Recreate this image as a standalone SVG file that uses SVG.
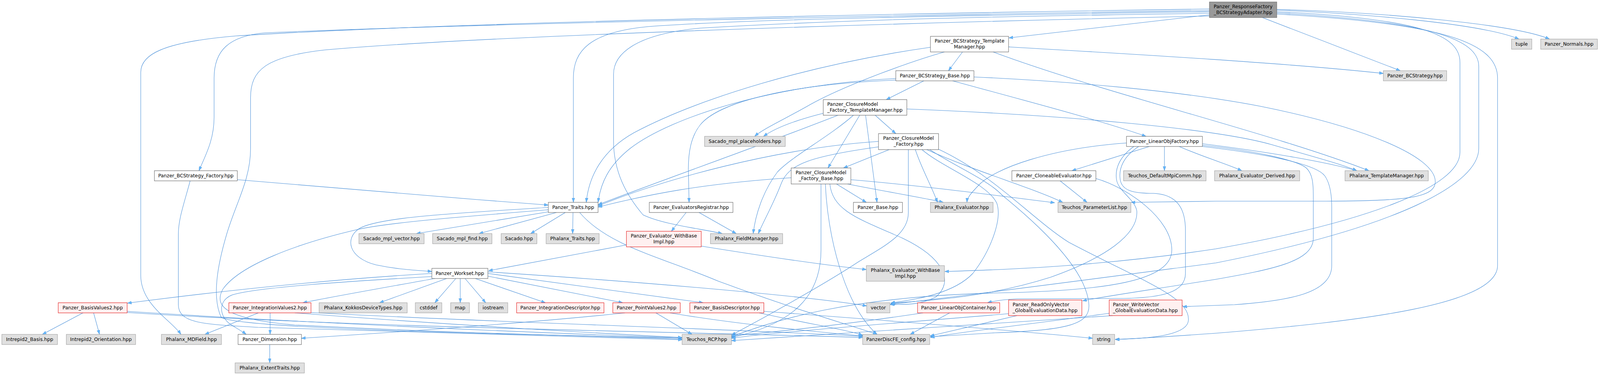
<svg xmlns="http://www.w3.org/2000/svg" width="4342" height="960" viewBox="0 0 4342 960">
<style>
text{font-family:"DejaVu Sans","Liberation Sans",sans-serif;font-size:13px;fill:#000;text-anchor:middle}
text.l{text-anchor:start}
rect{stroke-width:1}
.w rect{fill:#ffffff;stroke:#555555}
.g rect{fill:#e0e0e0;stroke:#999999}
.r rect{fill:#fff0f0;stroke:#e00000}
.root rect{fill:#999999;stroke:#666666}
#edges path{fill:none;stroke:#4a90d9;stroke-width:1.1;marker-end:url(#a)}
</style>
<defs>
<marker id="a" viewBox="0 0 10 7" markerWidth="11" markerHeight="8" refX="10" refY="3.5" orient="auto" markerUnits="userSpaceOnUse"><path d="M0,0L10,3.5L0,7z" fill="#63b8ff" stroke="#3f80c0" stroke-width="0.5"/></marker>
</defs>
<rect x="0" y="0" width="4342" height="960" fill="#ffffff"/>
<g id="diagram" transform="scale(0.94334 1)">
<g id="edges">
<path d="M3282,38 L2738,97"/>
<path d="M3465,26 C3700,35 4020,60 4122,100"/>
<path d="M3465,24 C3760,32 4110,62 4205,100"/>
<path d="M3426,45 L3800,181"/>
<path d="M3465,30 C3860,48 3962,90 3962,160 L3962,390 C3962,480 3700,570 3300,637 C3000,680 2750,690 2564,695"/>
<path d="M3465,33 C3880,55 4013,100 4013,170 L4013,380 C4013,470 3800,580 3300,673 C3000,710 2600,760 2416,779"/>
<path d="M3465,36 C3920,60 4064,110 4064,200 L4064,680 C4064,780 3700,822 3300,853 C3150,863 3080,867 3026,869"/>
<path d="M3282,27 C2600,36 1300,60 720,84 C620,92 581,130 581,200 L581,300 C581,360 556,400 540,437"/>
<path d="M3282,23 C2600,32 1250,55 640,92 C440,108 382,140 382,185 L382,705 C382,780 465,820 491,856"/>
<path d="M3282,41 C2600,55 1350,88 880,128 C720,145 680,180 680,250 L680,380 C680,460 640,520 615,600 C590,680 575,760 600,812 C640,840 1300,855 1851,865"/>
<path d="M3282,30 C2600,40 2050,48 1760,68 C1600,82 1556,130 1556,200 L1556,518"/>
<path d="M3282,34 C2700,42 2300,50 1900,72 C1720,88 1665,140 1665,190 L1665,360 C1665,440 1700,500 1745,550 C1800,575 1900,585 1960,598"/>
<path d="M2612,133 L2574,181"/>
<path d="M2525,121 C2200,165 1900,250 1720,340 C1635,385 1598,450 1591,518"/>
<path d="M2563,133 C2480,155 2300,215 2200,267 C2130,305 2070,330 2048,349"/>
<path d="M2695,133 C3000,240 3450,340 3715,437"/>
<path d="M2737,120 C3100,140 3500,162 3754,188"/>
<path d="M2507,207 L2405,255"/>
<path d="M2585,207 C2800,262 3000,312 3110,349"/>
<path d="M2643,197 C2900,208 3200,232 3420,272 C3700,325 3895,400 3895,465 C3895,505 3820,515 3600,515 L3300,515 L3070,518"/>
<path d="M2431,201 C2100,215 1820,300 1710,380 C1650,425 1630,470 1623,518"/>
<path d="M2431,205 C2150,215 1950,260 1900,320 C1875,350 1868,390 1868,433 L1870,518"/>
<path d="M2234,290 C2150,310 2100,330 2072,349"/>
<path d="M2375,295 L2431,342"/>
<path d="M2333,295 L2247,430"/>
<path d="M2349,295 L2380,518"/>
<path d="M2461,279 C2900,295 3300,330 3450,370 C3560,400 3640,420 3682,437"/>
<path d="M2274,295 C2100,360 1800,460 1623,524"/>
<path d="M2316,295 C2250,350 2150,400 2110,440 C2070,490 2050,550 2044,598"/>
<path d="M2413,383 L2289,430"/>
<path d="M2384,362 C2100,380 1800,460 1623,527"/>
<path d="M2384,376 C2200,400 2140,420 2120,470 C2100,520 2070,570 2058,598"/>
<path d="M2484,383 C2500,430 2530,480 2544,518"/>
<path d="M2515,383 C2650,440 2800,480 2884,518"/>
<path d="M2465,383 L2465,545 C2465,600 2400,630 2330,670 C2250,720 2100,800 1985,858"/>
<path d="M2502,383 C2560,430 2680,470 2705,520 C2720,560 2690,640 2640,700 C2580,760 2450,770 2417,776"/>
<path d="M2523,383 C2600,430 2680,460 2720,500 C2850,600 2950,700 2955,780 C2958,830 2900,845 2700,852 L2525,862"/>
<path d="M2547,382 C2700,450 2800,560 2900,620 C3100,720 3230,760 3225,820 C3222,862 3100,867 3027,869"/>
<path d="M2147,455 C1900,470 1750,500 1623,530"/>
<path d="M2309,460 C2500,475 2700,500 2862,519"/>
<path d="M2270,471 L2351,518"/>
<path d="M2228,471 L2228,640 C2228,760 2150,830 1985,864"/>
<path d="M2240,471 C2245,600 2290,780 2380,856"/>
<path d="M2300,471 C2400,490 2500,505 2560,518"/>
<path d="M2252,471 C2260,540 2330,560 2450,610 C2560,660 2590,720 2540,760 C2490,785 2440,778 2416,780"/>
<path d="M3119,375 L2909,437"/>
<path d="M3160,375 L3160,437"/>
<path d="M3200,375 C3260,400 3330,420 3370,437"/>
<path d="M3263,368 C3450,390 3600,415 3682,437"/>
<path d="M3263,372 C3400,385 3520,410 3545,430 C3562,445 3564,470 3564,500 L3564,610 C3564,670 3450,690 3300,715 C3100,745 2990,760 2938,770"/>
<path d="M3263,375 C3420,392 3570,418 3595,450 C3610,470 3614,500 3614,530 L3614,680 C3614,750 3500,770 3350,780 L3210,785"/>
<path d="M3090,375 C3050,400 3035,430 3040,460 C3045,490 3080,495 3130,495 C3200,498 3217,540 3217,590 L3217,700 C3217,750 3150,762 3050,764 L2760,765 C2720,767 2700,770 2680,775"/>
<path d="M3077,375 C3040,400 3025,430 3030,460 C3035,490 3080,510 3085,540 C3090,600 3000,660 2850,710 C2650,770 2470,770 2418,777"/>
<path d="M3057,366 C2850,380 2700,430 2655,475 C2635,495 2625,505 2624,518"/>
<path d="M2877,463 L2950,518"/>
<path d="M2974,457 C3060,480 3180,560 3180,640 C3180,720 3000,745 2700,750 C2300,760 2100,820 1985,862"/>
<path d="M1862,544 L1822,592"/>
<path d="M1897,544 L1998,598"/>
<path d="M1700,627 L1326,693"/>
<path d="M1903,630 C2100,660 2250,680 2351,690"/>
<path d="M1490,542 L1130,598"/>
<path d="M1510,544 L1300,598"/>
<path d="M1534,544 L1440,598"/>
<path d="M1555,544 L1554,598"/>
<path d="M1488,531 C1250,545 1030,555 975,585 C935,610 945,660 1020,678 C1080,690 1130,692 1172,695"/>
<path d="M1573,544 C1650,630 1800,660 1950,720 C2150,790 2300,830 2380,856"/>
<path d="M1488,537 C1250,555 1050,570 968,588 C800,625 650,680 605,740 C575,790 630,818 800,832 C1200,852 1600,860 1851,868"/>
<path d="M644,460 C900,480 1200,505 1488,525"/>
<path d="M516,463 C500,520 484,560 484,600 L484,780 C484,830 560,830 700,838 C1200,852 1600,862 1851,870"/>
<path d="M1172,700 C900,715 600,745 346,776"/>
<path d="M1180,713 C1050,735 900,760 822,775"/>
<path d="M1212,713 L1030,775"/>
<path d="M1237,713 L1180,775"/>
<path d="M1249,713 L1249,775"/>
<path d="M1262,713 L1318,775"/>
<path d="M1290,713 L1480,775"/>
<path d="M1324,707 L1690,775"/>
<path d="M1324,700 L1908,775"/>
<path d="M1324,696 C1800,725 2200,760 2352,783"/>
<path d="M1172,708 C950,720 700,735 630,755 C590,770 595,810 625,830 C645,842 660,850 668,856"/>
<path d="M225,801 L115,856"/>
<path d="M254,801 L270,856"/>
<path d="M345,797 C800,825 1400,850 1851,865"/>
<path d="M345,800 C1000,840 1900,850 2341,864"/>
<path d="M701,801 L556,856"/>
<path d="M733,801 L733,856"/>
<path d="M800,801 C1200,830 1600,852 1851,864"/>
<path d="M840,800 C1400,828 2000,842 2341,861"/>
<path d="M732,882 L732,929"/>
<path d="M1696,801 C1400,830 1000,855 818,866"/>
<path d="M1780,801 L1878,856"/>
<path d="M1818,801 C2000,830 2200,848 2341,860"/>
<path d="M2073,797 C2400,820 2800,850 2965,866"/>
<path d="M2060,801 C2200,830 2300,845 2341,858"/>
<path d="M2577,801 L2470,856"/>
<path d="M2505,801 C2300,830 2100,850 1985,860"/>
<path d="M2760,808 L2524,860"/>
<path d="M2737,803 C2400,830 2100,850 1985,866"/>
<path d="M3010,802 C2800,830 2600,850 2525,864"/>
<path d="M3020,808 C2700,830 2300,850 1985,872"/>
</g>
<g id="n0" class="root"><rect x="3282" y="5" width="183" height="40"/><text x="3373.5" y="21.5">Panzer_ResponseFactory</text><text x="3373.5" y="36.5">_BCStrategyAdapter.hpp</text></g>
<g id="n1" class="w"><rect x="2525" y="93" width="212" height="40"/><text x="2631" y="109.5">Panzer_BCStrategy_Template</text><text x="2631" y="124.5">Manager.hpp</text></g>
<g id="n2" class="g"><rect x="4102" y="100" width="55" height="26"/><text x="4129.5" y="117.5">tuple</text></g>
<g id="n3" class="g"><rect x="4181" y="100" width="154" height="26"/><text x="4258" y="117.5">Panzer_Normals.hpp</text></g>
<g id="n4" class="w"><rect x="2431" y="181" width="212" height="26"/><text x="2537" y="198.5">Panzer_BCStrategy_Base.hpp</text></g>
<g id="n5" class="g"><rect x="3754" y="181" width="172" height="26"/><text x="3840" y="198.5">Panzer_BCStrategy.hpp</text></g>
<g id="n6" class="w"><rect x="2234" y="255" width="227" height="40"/><text class="l" x="2245" y="271.5">Panzer_ClosureModel</text><text class="l" x="2245" y="286.5">_Factory_TemplateManager.hpp</text></g>
<g id="n7" class="g"><rect x="1912" y="349" width="219" height="26"/><text x="2021.5" y="366.5">Sacado_mpl_placeholders.hpp</text></g>
<g id="n8" class="w"><rect x="2384" y="342" width="163" height="41"/><text x="2465.5" y="358.5">Panzer_ClosureModel</text><text x="2465.5" y="373.5">_Factory.hpp</text></g>
<g id="n9" class="w"><rect x="3057" y="349" width="206" height="26"/><text x="3160" y="366.5">Panzer_LinearObjFactory.hpp</text></g>
<g id="n10" class="w"><rect x="419" y="437" width="225" height="26"/><text x="531.5" y="454.5">Panzer_BCStrategy_Factory.hpp</text></g>
<g id="n11" class="w"><rect x="2147" y="430" width="162" height="41"/><text x="2228" y="446.5">Panzer_ClosureModel</text><text x="2228" y="461.5">_Factory_Base.hpp</text></g>
<g id="n12" class="w"><rect x="2746" y="437" width="228" height="26"/><text x="2860" y="454.5">Panzer_CloneableEvaluator.hpp</text></g>
<g id="n13" class="g"><rect x="3049" y="437" width="224" height="26"/><text x="3161" y="454.5">Teuchos_DefaultMpiComm.hpp</text></g>
<g id="n14" class="g"><rect x="3296" y="437" width="231" height="26"/><text x="3411.5" y="454.5">Phalanx_Evaluator_Derived.hpp</text></g>
<g id="n15" class="g"><rect x="3650" y="437" width="226" height="26"/><text x="3763" y="454.5">Phalanx_TemplateManager.hpp</text></g>
<g id="n16" class="w"><rect x="1488" y="518" width="135" height="26"/><text x="1555.5" y="535.5">Panzer_Traits.hpp</text></g>
<g id="n17" class="w"><rect x="1762" y="518" width="227" height="26"/><text x="1875.5" y="535.5">Panzer_EvaluatorsRegistrar.hpp</text></g>
<g id="n18" class="w"><rect x="2316" y="518" width="133" height="26"/><text x="2382.5" y="535.5">Panzer_Base.hpp</text></g>
<g id="n19" class="g"><rect x="2525" y="518" width="170" height="26"/><text x="2610" y="535.5">Phalanx_Evaluator.hpp</text></g>
<g id="n20" class="g"><rect x="2871" y="518" width="198" height="26"/><text x="2970" y="535.5">Teuchos_ParameterList.hpp</text></g>
<g id="n21" class="g"><rect x="974" y="598" width="177" height="26"/><text x="1062.5" y="615.5">Sacado_mpl_vector.hpp</text></g>
<g id="n22" class="g"><rect x="1174" y="598" width="161" height="26"/><text x="1254.5" y="615.5">Sacado_mpl_find.hpp</text></g>
<g id="n23" class="g"><rect x="1360" y="598" width="97" height="26"/><text x="1408.5" y="615.5">Sacado.hpp</text></g>
<g id="n24" class="g"><rect x="1482" y="598" width="144" height="26"/><text x="1554" y="615.5">Phalanx_Traits.hpp</text></g>
<g id="n25" class="r"><rect x="1700" y="592" width="203" height="40"/><text x="1801.5" y="608.5">Panzer_Evaluator_WithBase</text><text x="1801.5" y="623.5">Impl.hpp</text></g>
<g id="n26" class="g"><rect x="1928" y="598" width="196" height="26"/><text x="2026" y="615.5">Phalanx_FieldManager.hpp</text></g>
<g id="n27" class="w"><rect x="1172" y="687" width="152" height="26"/><text x="1248" y="704.5">Panzer_Workset.hpp</text></g>
<g id="n28" class="g"><rect x="2351" y="680" width="212" height="40"/><text x="2457" y="696.5">Phalanx_Evaluator_WithBase</text><text x="2457" y="711.5">Impl.hpp</text></g>
<g id="n29" class="r"><rect x="158" y="775" width="187" height="26"/><text x="251.5" y="792.5">Panzer_BasisValues2.hpp</text></g>
<g id="n30" class="r"><rect x="621" y="775" width="223" height="26"/><text x="732.5" y="792.5">Panzer_IntegrationValues2.hpp</text></g>
<g id="n31" class="g"><rect x="866" y="775" width="239" height="26"/><text x="985.5" y="792.5">Phalanx_KokkosDeviceTypes.hpp</text></g>
<g id="n32" class="g"><rect x="1127" y="775" width="72" height="26"/><text x="1163" y="792.5">cstddef</text></g>
<g id="n33" class="g"><rect x="1223" y="775" width="51" height="26"/><text x="1248.5" y="792.5">map</text></g>
<g id="n34" class="g"><rect x="1298" y="775" width="80" height="26"/><text x="1338" y="792.5">iostream</text></g>
<g id="n35" class="r"><rect x="1402" y="775" width="237" height="26"/><text x="1520.5" y="792.5">Panzer_IntegrationDescriptor.hpp</text></g>
<g id="n36" class="r"><rect x="1663" y="775" width="183" height="26"/><text x="1754.5" y="792.5">Panzer_PointValues2.hpp</text></g>
<g id="n37" class="r"><rect x="1872" y="775" width="201" height="26"/><text x="1972.5" y="792.5">Panzer_BasisDescriptor.hpp</text></g>
<g id="n38" class="g"><rect x="2352" y="775" width="63" height="26"/><text x="2383.5" y="792.5">vector</text></g>
<g id="n39" class="r"><rect x="2490" y="775" width="223" height="26"/><text x="2601.5" y="792.5">Panzer_LinearObjContainer.hpp</text></g>
<g id="n40" class="r"><rect x="2737" y="768" width="199" height="40"/><text class="l" x="2748" y="784.5">Panzer_ReadOnlyVector</text><text class="l" x="2748" y="799.5">_GlobalEvaluationData.hpp</text></g>
<g id="n41" class="r"><rect x="3010" y="768" width="198" height="40"/><text class="l" x="3020" y="784.5">Panzer_WriteVector</text><text class="l" x="3020" y="799.5">_GlobalEvaluationData.hpp</text></g>
<g id="n42" class="g"><rect x="5" y="856" width="151" height="26"/><text x="80.5" y="873.5">Intrepid2_Basis.hpp</text></g>
<g id="n43" class="g"><rect x="180" y="856" width="188" height="26"/><text x="274" y="873.5">Intrepid2_Orientation.hpp</text></g>
<g id="n44" class="g"><rect x="438" y="856" width="163" height="26"/><text x="519.5" y="873.5">Phalanx_MDField.hpp</text></g>
<g id="n45" class="w"><rect x="646" y="856" width="172" height="26"/><text x="732" y="873.5">Panzer_Dimension.hpp</text></g>
<g id="n46" class="g"><rect x="1851" y="856" width="134" height="26"/><text x="1918" y="873.5">Teuchos_RCP.hpp</text></g>
<g id="n47" class="g"><rect x="2341" y="856" width="182" height="26"/><text x="2432" y="873.5">PanzerDiscFE_config.hpp</text></g>
<g id="n48" class="g"><rect x="2965" y="856" width="60" height="26"/><text x="2995" y="873.5">string</text></g>
<g id="n49" class="g"><rect x="638" y="929" width="188" height="26"/><text x="732" y="946.5">Phalanx_ExtentTraits.hpp</text></g>
</g>
</svg>
